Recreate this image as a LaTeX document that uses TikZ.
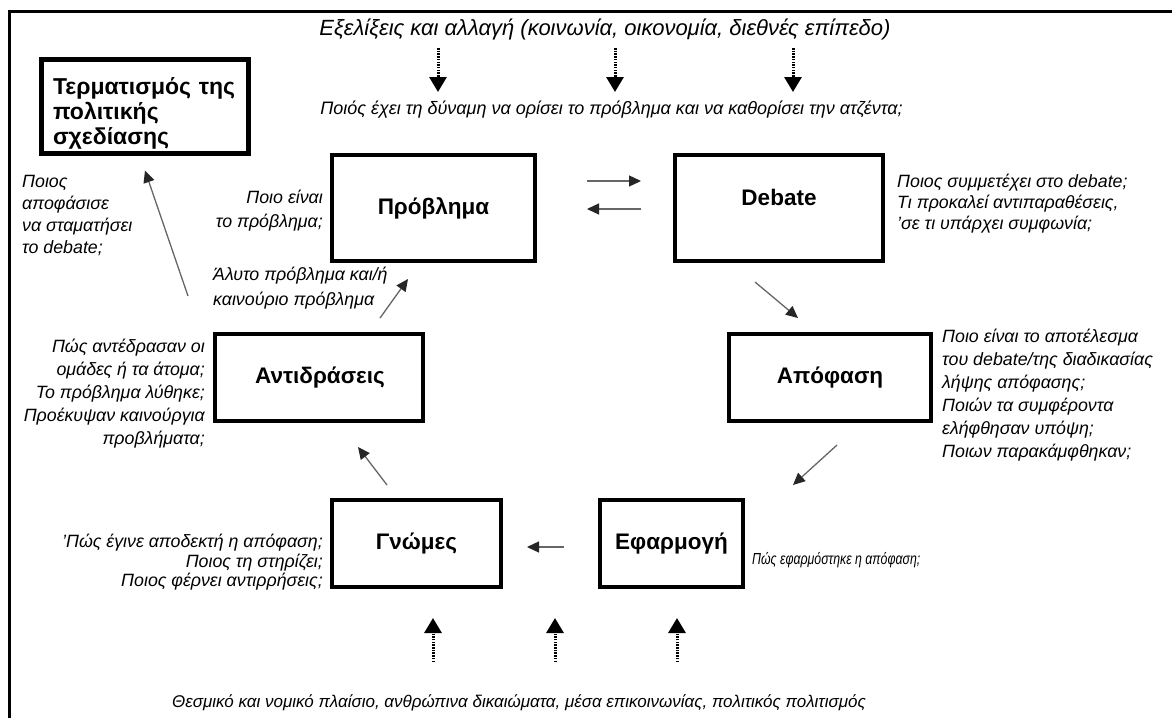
\documentclass[tikz,border=0pt]{standalone}
\usepackage{fontspec}
\setmainfont{Liberation Sans}
\usetikzlibrary{arrows.meta,calc}
\begin{document}
\begin{tikzpicture}[x=1pt,y=-1pt,
  box/.style={draw, line width=4pt, inner sep=0pt, font=\fontsize{22.5}{25}\selectfont\bfseries},
  lab/.style={inner sep=0pt, font=\fontsize{22.5}{25}\selectfont\bfseries},
  qt/.style={inner sep=0pt, font=\fontsize{17.8}{22}\selectfont\itshape},
  arr/.style={draw=black!60, line width=1.3pt, -{Triangle[length=12pt,width=11pt,color=black!85]}},
  darr/.style={draw=black, line width=3pt, dash pattern=on 1.5pt off 1.2pt, -{Triangle[length=15pt,width=17pt]}}]
\useasboundingbox (0,0) rectangle (1172,718);
\fill[white] (0,0) rectangle (1172,718);
% frame
\draw[line width=3pt] (9,718) -- (9,11) -- (1172,11);

% boxes
\node[box, font=\fontsize{23}{25}\selectfont\bfseries, line width=5pt, minimum width=207pt, minimum height=94pt, align=left, text width=184pt] (term) at (145,106.5) {\rule{0pt}{31pt}Τερματισμός της\\πολιτικής\\σχεδίασης};
\node[box, minimum width=203pt, minimum height=106pt] (prob) at (433.5,208) {Πρόβλημα};
\node[box, minimum width=208pt, minimum height=106pt] (deb) at (779,208) {};
\node[lab] at ($(deb.center)+(0,-11)$) {Debate};
\node[box, minimum width=202pt, minimum height=87pt] (apo) at (830,377.5) {Απόφαση};
\node[box, minimum width=143pt, minimum height=87pt] (efa) at (671.5,543.5) {Εφαρμογή};
\node[box, minimum width=169pt, minimum height=87pt] (gno) at (416.5,543.5) {Γνώμες};
\node[box, minimum width=208pt, minimum height=87pt] (ant) at (319,377.5) {\hspace*{2pt}Αντιδράσεις};

% texts
\node[inner sep=0pt, font=\fontsize{22}{24}\selectfont\itshape] (top) at (605,29) {Εξελίξεις και αλλαγή (κοινωνία, οικονομία, διεθνές επίπεδο)};
\node[qt, font=\fontsize{18}{22}\selectfont\itshape] (q) at (611.5,110) {Ποιός έχει τη δύναμη να ορίσει το πρόβλημα και να καθορίσει την ατζέντα;};
\node[inner sep=0pt, font=\fontsize{17}{20}\selectfont\itshape] (bot) at (519,703) {Θεσμικό και νομικό πλαίσιο, ανθρώπινα δικαιώματα, μέσα επικοινωνίας, πολιτικός πολιτισμός};

\node[qt, anchor=north west, align=left] (qterm) at (22,175) {Ποιος\\αποφάσισε\\να σταματήσει\\το debate;};
\node[qt, font=\fontsize{17.8}{24}\selectfont\itshape, anchor=north east, align=right] (qprob) at (323,190) {Ποιο είναι\\το πρόβλημα;};
\node[qt, font=\fontsize{17.8}{25}\selectfont\itshape, anchor=north west, align=left] (qalyto) at (213,267) {Άλυτο πρόβλημα και/ή\\καινούριο πρόβλημα};
\node[qt, font=\fontsize{17.8}{23}\selectfont\itshape, anchor=north east, align=right] (qant) at (205,339) {Πώς αντέδρασαν οι\\ομάδες ή τα άτομα;\\Το πρόβλημα λύθηκε;\\Προέκυψαν καινούργια\\προβλήματα;};
\node[qt, font=\fontsize{17.8}{21}\selectfont\itshape, anchor=north west, align=left] (qdeb) at (897,174) {Ποιος συμμετέχει στο debate;\\Τι προκαλεί αντιπαραθέσεις,\\'σε τι υπάρχει συμφωνία;};
\node[qt, font=\fontsize{17.8}{23}\selectfont\itshape, anchor=north west, align=left] (qapo) at (942,329) {Ποιο είναι το αποτέλεσμα\\του debate/της διαδικασίας\\λήψης απόφασης;\\Ποιών τα συμφέροντα\\ελήφθησαν υπόψη;\\Ποιων παρακάμφθηκαν;};
\node[qt, font=\fontsize{16}{18}\selectfont\itshape, anchor=west] (qefa) at (752,560) {\scalebox{0.77}[1]{Πώς εφαρμόστηκε η απόφαση;}};
\node[qt, font=\fontsize{17.8}{19.5}\selectfont\itshape, anchor=north east, align=right] (qgno) at (323,534) {'Πώς έγινε αποδεκτή η απόφαση;\\Ποιος τη στηρίζει;\\Ποιος φέρνει αντιρρήσεις;};

% connectors
\draw[arr] ($(prob.east)+(50,-27)$) -- ($(deb.west)+(-32,-27)$);
\draw[arr] ($(deb.west)+(-32,1)$) -- ($(prob.east)+(50,1)$);
\draw[arr] ($(deb.south)+(-24,19)$) -- ($(apo.north)+(-32,-14)$);
\draw[arr] ($(apo.south)+(7,22)$) -- ($(efa.north)+(121.5,-13)$);
\draw[arr] ($(efa.west)+(-34,3.5)$) -- ($(gno.east)+(24,3.5)$);
\draw[arr] ($(gno.north)+(-29.5,-13)$) -- ($(ant.south)+(39,24)$);
\draw[arr] ($(ant.north)+(61,-14)$) -- ($(prob.south)+(-25.5,16)$);
\draw[arr] ($(ant.north)+(-131,-36)$) -- ($(term.south)+(0,14.5)$);

% dashed influence arrows
\foreach \x/\n in {438/1,615/2,793/3}{
  \coordinate (ts\n) at (\x,48);
  \coordinate (te\n) at (\x,92);
  \draw[darr] (ts\n) -- (te\n);
}
\foreach \x/\n in {433/1,555/2,677/3}{
  \coordinate (bs\n) at (\x,662);
  \coordinate (be\n) at (\x,618);
  \draw[darr] (bs\n) -- (be\n);
}
\end{tikzpicture}
\end{document}
